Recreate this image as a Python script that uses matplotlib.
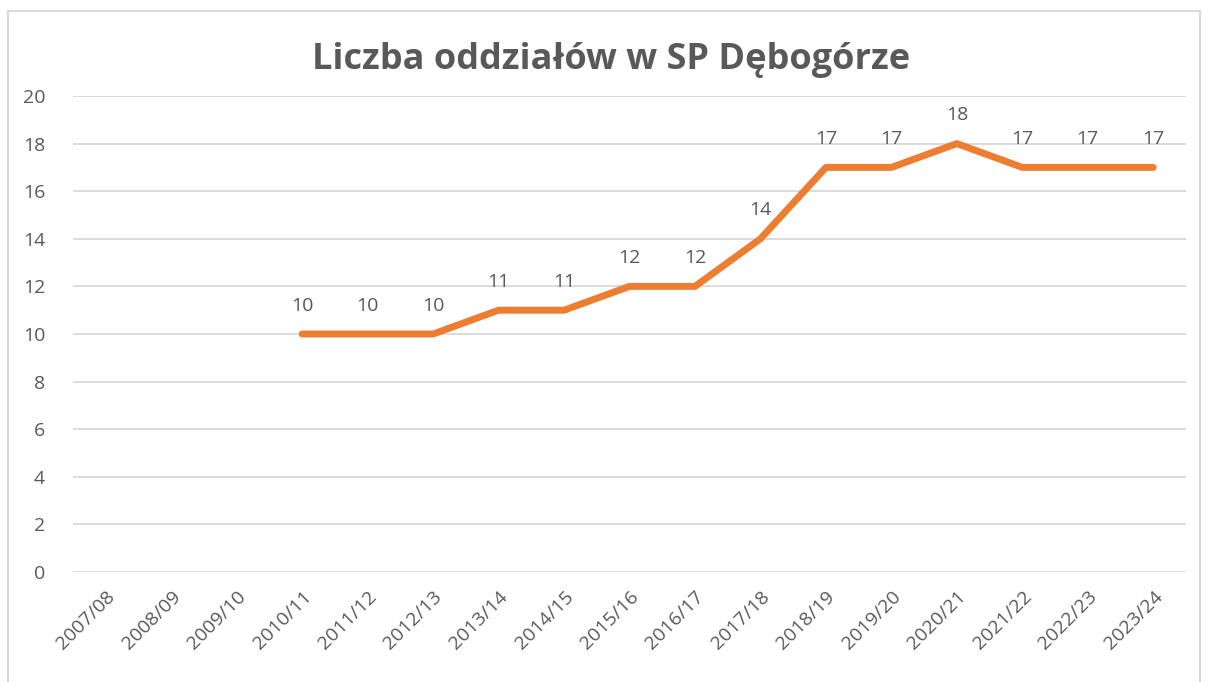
import numpy as np
import matplotlib.pyplot as plt
from matplotlib.patches import Rectangle

years = ['2007/08', '2008/09', '2009/10', '2010/11', '2011/12', '2012/13',
         '2013/14', '2014/15', '2015/16', '2016/17', '2017/18', '2018/19',
         '2019/20', '2020/21', '2021/22', '2022/23', '2023/24']
oddzialy = [np.nan, np.nan, np.nan, 10, 10, 10, 11, 11, 12, 12, 14, 17,
            17, 18, 17, 17, 17]
y_ticks = [0, 2, 4, 6, 8, 10, 12, 14, 16, 18, 20]

plt.rcParams['font.family'] = ['Open Sans', 'DejaVu Sans']
gray = '#595959'

fig = plt.figure(figsize=(12.08, 6.82), dpi=100)
# chart border like the Excel chart area
fig.patches.append(Rectangle((8 / 1208, -0.01), 1192 / 1208, 1 - 11 / 682 + 0.01,
                             transform=fig.transFigure, fill=False,
                             edgecolor='#d9d9d9', linewidth=1.5))

ax = fig.add_axes([73 / 1208, 1 - 572 / 682, (1186 - 73) / 1208, (572 - 96) / 682])
x = np.arange(len(years))
ax.plot(x, oddzialy, color='#ed7d31', linewidth=5, solid_joinstyle='round',
        solid_capstyle='round')
for xi, v in zip(x, oddzialy):
    if not np.isnan(v):
        ax.annotate(f'{int(v)}', (xi, v), xytext=(0, 14), textcoords='offset points',
                    ha='center', va='bottom', fontsize=14, color=gray)

ax.set_xlim(-0.5, len(years) - 0.5)
ax.set_ylim(0, 20)
ax.set_yticks(y_ticks)
ax.set_xticks(x)
ax.set_xticklabels(years, rotation=45, ha='right', va='top', rotation_mode='anchor')
ax.tick_params(axis='both', length=0, labelsize=14, colors=gray)
ax.tick_params(axis='y', pad=20)
ax.tick_params(axis='x', pad=11)
ax.grid(axis='y', color='#d9d9d9', linewidth=1.3)
ax.set_axisbelow(True)
for s in ax.spines.values():
    s.set_visible(False)

fig.text(0.5 + 7 / 1208, 1 - 60 / 682, 'Liczba oddziałów w SP Dębogórze', ha='center',
         va='center', fontsize=26, fontweight='bold', color=gray)

fig.savefig('out.png', dpi=100)
